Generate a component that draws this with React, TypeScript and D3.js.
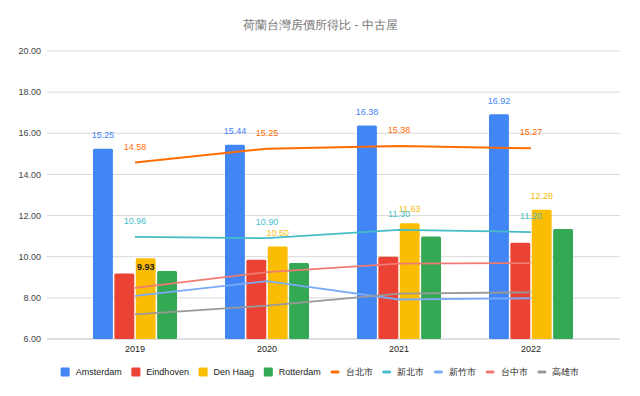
import React from 'react';
import * as d3 from 'd3';

const title = '荷蘭台灣房價所得比 - 中古屋';
const years = ['2019', '2020', '2021', '2022'];
const barNames = ['Amsterdam', 'Eindhoven', 'Den Haag', 'Rotterdam'];
const barColors = ['#4285F4', '#EA4335', '#FBBC04', '#34A853'];
const amsterdam = [15.25, 15.44, 16.38, 16.92];
const eindhoven = [9.19, 9.85, 10.0, 10.68];
const denHaag = [9.93, 10.5, 11.63, 12.28];
const rotterdam = [9.3, 9.69, 10.98, 11.35];

const lineNames = ['台北市', '新北市', '新竹市', '台中市', '高雄市'];
const lineColors = ['#FF6D01', '#46BDC6', '#7BAAF7', '#F07B72', '#999999'];
const taipei = [14.58, 15.25, 15.38, 15.27];
const newTaipei = [10.96, 10.9, 11.3, 11.2];
const hsinchu = [8.1, 8.81, 7.92, 7.98];
const taichung = [8.49, 9.25, 9.66, 9.69];
const kaohsiung = [7.2, 7.62, 8.21, 8.27];

const yTicks = [6, 8, 10, 12, 14, 16, 18, 20];

const barData = [amsterdam, eindhoven, denHaag, rotterdam];
const lineData = [taipei, newTaipei, hsinchu, taichung, kaohsiung];
const barLabelled = [true, false, true, false];
const lineLabelled = [true, true, false, false, false];

const W = 640;
const H = 396;
const FONT = 'Arial, "Liberation Sans", sans-serif';

function measure(text: string, size: number) {
  const c = document.createElement('canvas').getContext('2d');
  if (!c) return text.length * size * 0.55;
  c.font = `${size}px Arial, "Liberation Sans", "Noto Sans CJK TC", sans-serif`;
  return c.measureText(text).width;
}

export default function App() {
  const y = d3.scaleLinear().domain([6, 20]).range([339, 51]);
  const x0 = d3.scaleBand<string>().domain(years).range([69, 597]);
  const cx = (yr: string) => (x0(yr) as number) + x0.bandwidth() / 2;
  const x1 = d3.scaleBand<string>().domain(barNames).range([-42, 42]).paddingInner(0.07);

  const line = d3
    .line<number>()
    .x((_, i) => cx(years[i]))
    .y((v) => y(v));

  const legendItems = [
    ...barNames.map((n, i) => ({ name: n, color: barColors[i], kind: 'bar' })),
    ...lineNames.map((n, i) => ({ name: n, color: lineColors[i], kind: 'line' })),
  ];
  const lgFont = 9;
  const widths = legendItems.map((it) => 9 + 6 + measure(it.name, lgFont));
  const gap = 9.7;
  const total = widths.reduce((a, b) => a + b, 0) + gap * (widths.length - 1);
  let lx = 320 - total / 2;
  const legendPos = widths.map((w) => {
    const p = lx;
    lx += w + gap;
    return p;
  });
  const ly = 372;

  return (
    <svg
      width={W}
      height={H}
      style={{ position: 'absolute', left: 0, top: 0, background: '#fff' }}
      fontFamily={FONT}
    >
      <rect width={W} height={H} fill="#fff" />
      <text x={320.5} y={25} textAnchor="middle" dy="0.35em" fontSize={12} fill="#757575">
        {title}
      </text>
      {yTicks.map((t) => (
        <g key={t}>
          <line x1={47} x2={620} y1={y(t)} y2={y(t)} stroke={t === 6 ? '#bdbdbd' : '#d9d9d9'} strokeWidth={1} />
          <text x={41} y={y(t)} dy="0.35em" textAnchor="end" fontSize={9} fill="#444">
            {t.toFixed(2)}
          </text>
        </g>
      ))}
      {years.map((yr) => (
        <text key={yr} x={cx(yr)} y={349} dy="0.35em" textAnchor="middle" fontSize={9} fill="#222">
          {yr}
        </text>
      ))}
      {barData.map((series, si) =>
        series.map((v, i) => {
          const bx = cx(years[i]) + (x1(barNames[si]) as number);
          const top = y(v);
          return (
            <rect
              key={`${si}-${i}`}
              x={bx}
              y={top}
              width={x1.bandwidth()}
              height={y(6) - top}
              rx={1.5}
              fill={barColors[si]}
            />
          );
        })
      )}
      {lineData.map((series, li) => (
        <path key={li} d={line(series) || ''} fill="none" stroke={lineColors[li]} strokeWidth={li === 0 ? 2 : 1.8} />
      ))}
      {barData.map((series, si) =>
        barLabelled[si]
          ? series.map((v, i) => {
              const bx = cx(years[i]) + (x1(barNames[si]) as number) + x1.bandwidth() / 2;
              const inside = si === 2 && i === 0;
              return (
                <text
                  key={`bl-${si}-${i}`}
                  x={bx}
                  y={inside ? y(v) + 9 : y(v) - 14}
                  dy="0.35em"
                  textAnchor="middle"
                  fontSize={9}
                  fontWeight={inside ? 'bold' : 'normal'}
                  fill={inside ? '#222' : barColors[si]}
                >
                  {v.toFixed(2)}
                </text>
              );
            })
          : null
      )}
      {lineData.map((series, li) =>
        lineLabelled[li]
          ? series.map((v, i) => (
              <text
                key={`ll-${li}-${i}`}
                x={cx(years[i])}
                y={y(v) - 16}
                dy="0.35em"
                textAnchor="middle"
                fontSize={9}
                fill={lineColors[li]}
              >
                {v.toFixed(2)}
              </text>
            ))
          : null
      )}
      {legendItems.map((it, i) => {
        const px = legendPos[i];
        return (
          <g key={it.name}>
            {it.kind === 'bar' ? (
              <rect x={px} y={ly - 4.5} width={9} height={9} rx={1} fill={it.color} />
            ) : (
              <rect x={px} y={ly - 1.5} width={9} height={3} rx={1.5} fill={it.color} />
            )}
            <text x={px + 15} y={ly} dy="0.35em" fontSize={lgFont} fill="#222">
              {it.name}
            </text>
          </g>
        );
      })}
    </svg>
  );
}
